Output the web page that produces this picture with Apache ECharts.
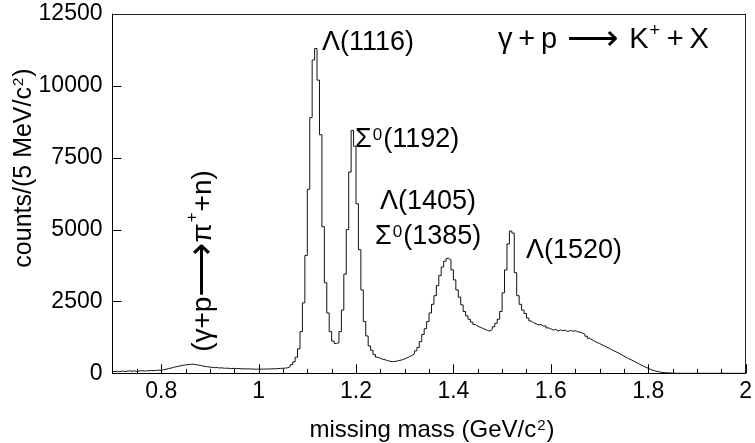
<!DOCTYPE html>
<html><head><meta charset="utf-8">
<script src="https://cdn.jsdelivr.net/npm/echarts@6/dist/echarts.min.js"></script>
<style>html,body{margin:0;padding:0;background:#fff}#chart{width:755px;height:443px}</style>
</head><body><div id="chart"></div>
<script>
// Histogram: 5 MeV bins, left edges from 0.700 GeV
const binStart = 0.7;
const binWidth = 0.005;
const counts_0700 = [60, 75, 55, 80, 65, 70, 90, 70, 85, 60, 80, 95, 75, 90, 85, 100, 90, 105, 110, 100];
const counts_0800 = [125, 140, 165, 180, 205, 225, 245, 260, 280, 290, 300, 310, 315, 305, 290, 275, 255, 240, 230, 215];
const counts_0900 = [205, 195, 200, 185, 190, 175, 180, 170, 165, 172, 160, 168, 155, 160, 150, 158, 145, 150, 140, 148];
const counts_1000 = [142, 150, 145, 155, 150, 160, 155, 165, 170, 175, 180, 195, 230, 300, 400, 560, 850, 1450, 2450, 4100];
const counts_1100 = [6400, 8900, 10900, 11300, 10200, 8300, 5100, 3150, 2100, 1450, 1120, 1040, 1060, 1450, 2200, 3450, 5000, 7000, 8450, 7900];
const counts_1200 = [5900, 4300, 2900, 1800, 1300, 950, 800, 650, 560, 520, 490, 470, 440, 420, 405, 410, 430, 450, 470, 500];
const counts_1300 = [540, 580, 620, 680, 780, 900, 1100, 1350, 1550, 1800, 2100, 2400, 2700, 3050, 3400, 3700, 3900, 4000, 3950, 3600];
const counts_1400 = [3250, 2900, 2650, 2380, 2150, 2000, 1880, 1780, 1700, 1640, 1600, 1570, 1530, 1490, 1470, 1530, 1620, 1740, 1880, 2150];
const counts_1500 = [2800, 3600, 4500, 4950, 4880, 3500, 2700, 2400, 2200, 2080, 1920, 1820, 1760, 1720, 1680, 1700, 1640, 1650, 1580, 1550];
const counts_1600 = [1500, 1530, 1470, 1510, 1480, 1500, 1450, 1490, 1470, 1480, 1450, 1430, 1400, 1360, 1290, 1220, 1160, 1120, 1070, 1040];
const counts_1700 = [990, 950, 910, 870, 820, 780, 740, 700, 650, 600, 550, 510, 470, 430, 380, 340, 290, 250, 210, 175];
const counts_1800 = [135, 105, 80, 60, 40, 30, 20, 18, 12, 5, 0, 0, 0, 0, 0, 0, 0, 0, 0, 0];
const counts_1900 = [0, 0, 0, 0, 0, 0, 0, 0, 0, 0, 0, 0, 0, 0, 0, 0, 0, 0, 0, 0];

const xTickLabels = [0.8, 1, 1.2, 1.4, 1.6, 1.8, 2];
const yTickLabels = [0, 2500, 5000, 7500, 10000, 12500];
const xMinorStep = 0.05;

const counts = [].concat(counts_0700, counts_0800, counts_0900, counts_1000, counts_1100,
  counts_1200, counts_1300, counts_1400, counts_1500, counts_1600, counts_1700, counts_1800, counts_1900);
const histData = counts.map((c, i) => [+(binStart + i * binWidth).toFixed(3), c]);
histData.push([+(binStart + counts.length * binWidth).toFixed(3), counts[counts.length - 1]]);

// tick marks (drawn inward): [value, kind]  kind 0 = x major, 1 = x minor, 2 = y major
const tickData = [];
xTickLabels.forEach(v => tickData.push([v, 0]));
for (let k = 1; k < 26; k++) {
  const v = +(0.7 + k * xMinorStep).toFixed(3);
  if (!xTickLabels.some(t => Math.abs(t - v) < 1e-6)) tickData.push([v, 1]);
}
yTickLabels.slice(1, -1).forEach(v => tickData.push([v, 2]));

const FONT = 'Liberation Sans, Arial, sans-serif';
const TS = '\u2009';
function supStyle(size) {
  return { fontSize: size, fontFamily: FONT, fill: '#000', verticalAlign: 'top', padding: [0, 1, 0, 1] };
}
function label(text, x, y, size, opts) {
  opts = opts || {};
  return {
    type: 'text', x: x, y: y, silent: true, rotation: opts.rotation || 0, z: 50,
    style: { text: text, fontSize: size, fontFamily: FONT, fill: '#000',
      textAlign: opts.align || 'left', textVerticalAlign: 'middle',
      rich: { s: supStyle(opts.sup || Math.round(size * 0.62)),
              a: { fontSize: Math.round(size * (opts.arrow || 1.25)), fontFamily: FONT, fill: '#000' } } }
  };
}
const frameAxis = { show: true, lineStyle: { color: '#222', width: 1 } };

const chart = echarts.init(document.getElementById('chart'), null, { renderer: 'canvas' });
chart.setOption({
  animation: false,
  backgroundColor: '#fff',
  grid: { left: 112.5, right: 3.5, top: 14, bottom: 69.7, show: false },
  xAxis: [{
    type: 'value', min: 0.7, max: 2.0, position: 'bottom',
    axisLine: { show: true, onZero: false, lineStyle: { color: '#000', width: 1 } },
    axisTick: { show: false },
    axisLabel: { show: true, customValues: xTickLabels, fontSize: 23, fontFamily: FONT, color: '#000', margin: 7,
      formatter: v => String(Math.round(v * 10) / 10) },
    splitLine: { show: false }
  }, {
    type: 'value', min: 0.7, max: 2.0, position: 'top',
    axisLine: Object.assign({ onZero: false }, frameAxis),
    axisTick: { show: false }, axisLabel: { show: false }, splitLine: { show: false }
  }],
  yAxis: [{
    type: 'value', min: 0, max: 12500, interval: 2500, position: 'left',
    axisLine: { show: true, onZero: false, lineStyle: { color: '#000', width: 1 } },
    axisTick: { show: false },
    axisLabel: { show: true, fontSize: 23, fontFamily: FONT, color: '#000', margin: 10,
      formatter: v => yTickLabels.indexOf(v) >= 0 ? String(v) : '' },
    splitLine: { show: false }
  }, {
    type: 'value', min: 0, max: 12500, position: 'right',
    axisLine: Object.assign({ onZero: false }, frameAxis),
    axisTick: { show: false }, axisLabel: { show: false }, splitLine: { show: false }
  }],
  series: [{
    type: 'line', step: 'end', xAxisIndex: 0, yAxisIndex: 0, symbol: 'none', data: histData,
    lineStyle: { color: '#111', width: 1 }, silent: true
  }, {
    type: 'custom', xAxisIndex: 0, yAxisIndex: 0, silent: true, clip: false, z: 5,
    data: tickData,
    renderItem: function (params, api) {
      const v = api.value(0), kind = api.value(1);
      let x1, y1, x2, y2;
      if (kind < 2) {
        const p = api.coord([v, 0]);
        const x = Math.round(p[0]) + 0.5;
        x1 = x; x2 = x; y1 = p[1]; y2 = p[1] - (kind === 0 ? 9 : 4.5);
      } else {
        const p = api.coord([0.7, v]);
        const y = Math.round(p[1]) + 0.5;
        y1 = y; y2 = y; x1 = p[0]; x2 = p[0] + 9;
      }
      return { type: 'line', shape: { x1: x1, y1: y1, x2: x2, y2: y2 }, style: { stroke: '#000', lineWidth: 1 } };
    }
  }],
  graphic: [
    label('Λ(1116)', 322, 43, 27),
    label('Σ{s|0}(1192)', 355, 140, 27, { sup: 17 }),
    label('Λ(1405)', 380, 202, 27),
    label('Σ{s|0}(1385)', 375, 237, 27, { sup: 17 }),
    label('Λ(1520)', 526, 251, 27),
    label('γ' + TS + '+' + TS + 'p{a| ⟶ }K{s|+}' + TS + '+' + TS + 'X', 498, 40, 29, { sup: 18 }),
    label('(γ+p{a|⟶}π{s|+}+n)', 203, 261, 28, { rotation: Math.PI / 2, align: 'center', sup: 17, arrow: 1.35 }),
    label('missing mass (GeV/c{s|2})', 432, 430, 24, { align: 'center', sup: 15 }),
    label('counts/(5 MeV/c{s|2})', 24, 168, 25, { rotation: Math.PI / 2, align: 'center', sup: 15 })
  ]
});
</script></body></html>
